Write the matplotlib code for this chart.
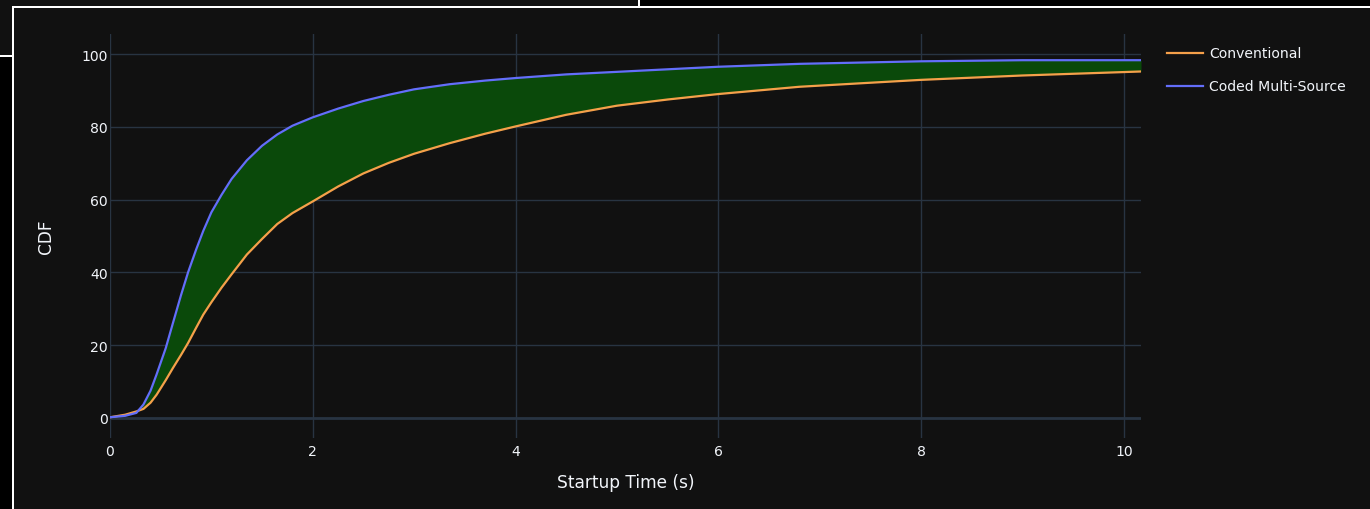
import matplotlib
matplotlib.use("Agg")
import matplotlib.pyplot as plt
from matplotlib.lines import Line2D
from matplotlib.patches import Rectangle

# ---- data ----
startup_time = [0, 0.15, 0.26, 0.33, 0.4, 0.46, 0.55, 0.62, 0.7, 0.77, 0.85, 0.92,
                1.0, 1.1, 1.2, 1.35, 1.5, 1.65, 1.8, 2.0, 2.25, 2.5, 2.75, 3.0,
                3.35, 3.7, 4.0, 4.5, 5.0, 5.5, 6.0, 6.8, 8.0, 9.0, 10.17]
conventional = [0.2, 0.9, 1.8, 2.5, 4.2, 6.4, 10.4, 13.7, 17.3, 20.6, 24.8, 28.4,
                31.8, 35.8, 39.5, 44.9, 49.2, 53.3, 56.3, 59.5, 63.6, 67.2, 70.1, 72.6,
                75.5, 78.1, 80.1, 83.3, 85.8, 87.5, 89.0, 91.0, 92.9, 94.1, 95.2]
coded_multi_source = [0.2, 0.6, 1.4, 3.7, 7.5, 12.0, 19.2, 26.0, 33.7, 40.0, 46.3, 51.4,
                      56.5, 61.3, 65.7, 70.8, 74.8, 77.9, 80.3, 82.6, 85.0, 87.1, 88.8, 90.3,
                      91.7, 92.7, 93.4, 94.4, 95.1, 95.8, 96.5, 97.3, 98.0, 98.3, 98.3]
series_names = ["Conventional", "Coded Multi-Source"]
x_ticks = [0, 2, 4, 6, 8, 10]
y_ticks = [0, 20, 40, 60, 80, 100]
x_title = "Startup Time (s)"
y_title = "CDF"

# ---- style ----
BG = "#111111"
GRID = "#283442"
FG = "#f2f5fa"
C_CONV = "#F5A04A"
C_CODED = "#636efa"
C_FILL = "#0a490a"
W, H = 1370, 510
PX = 72 / 100  # points per pixel at dpi 100
plt.rcParams['font.family'] = ['DejaVu Sans']

fig = plt.figure(figsize=(W / 100, H / 100), dpi=100, facecolor=BG)

# screenshot frame artifacts
def frect(x0, y0, w, h, color):
    fig.patches.append(Rectangle((x0 / W, 1 - (y0 + h) / H), w / W, h / H,
                                 transform=fig.transFigure, color=color, lw=0, zorder=-5))
frect(0, 57, 12, H - 57, "#000000")
frect(640, 0, W - 640, 7, "#000000")
frect(0, 56, 13, 2, "#ffffff")
frect(12, 7, W - 12, 2, "#ffffff")
frect(12, 7, 2, H - 7, "#ffffff")
frect(638, 0, 2, 8, "#ffffff")

L, R, T, B = 110, 1141, 35, 439
ax = fig.add_axes([L / W, 1 - B / H, (R - L) / W, (B - T) / H])
ax.set_facecolor(BG)
for s in ax.spines.values():
    s.set_visible(False)

ax.set_xlim(0, 10.17)
ax.set_ylim(-5.5, 105.5)
ax.set_xticks(x_ticks)
ax.set_yticks(y_ticks)
ax.set_xticklabels([str(v) for v in x_ticks])
ax.set_yticklabels([str(v) for v in y_ticks])
ax.tick_params(axis='both', length=0, colors=FG, labelsize=14 * PX)
ax.tick_params(axis='x', pad=4.5)
ax.tick_params(axis='y', pad=1.5)
ax.grid(True, color=GRID, lw=1.0)
ax.set_axisbelow(True)
ax.axhline(0, color=GRID, lw=2.0, zorder=0.5)

ax.fill_between(startup_time, conventional, coded_multi_source, color=C_FILL, lw=0, zorder=1)
ax.plot(startup_time, conventional, color=C_CONV, lw=1.6, zorder=2, solid_joinstyle='round')
ax.plot(startup_time, coded_multi_source, color=C_CODED, lw=1.6, zorder=3, solid_joinstyle='round')

ax.set_xlabel(x_title, color=FG, fontsize=17 * PX, va='center')
ax.set_ylabel(y_title, color=FG, fontsize=17 * PX, va='center')
ax.xaxis.set_label_coords(0.5, (B - 483) / (B - T))
ax.yaxis.set_label_coords((46 - L) / (R - L), 0.5)

handles = [Line2D([], [], color=C_CONV, lw=1.6), Line2D([], [], color=C_CODED, lw=1.6)]
leg = fig.legend(handles, series_names, loc='upper left',
                 bbox_to_anchor=(1167 / W, 1 - 47.5 / H), frameon=False,
                 fontsize=14 * PX, labelcolor=FG, handlelength=2.55, handletextpad=0.45,
                 labelspacing=1.35, borderaxespad=0, borderpad=0)

fig.savefig("out.png", dpi=100, facecolor=BG)
